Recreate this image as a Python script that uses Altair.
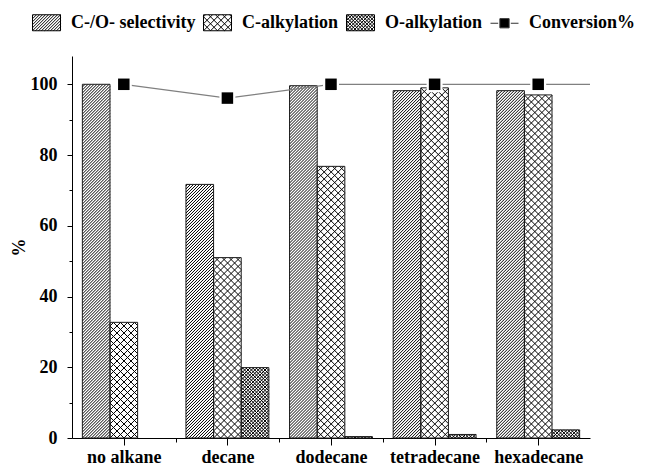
import json
import altair as alt
import pandas as pd

# ---------------- data ----------------
categories = ["no alkane", "decane", "dodecane", "tetradecane", "hexadecane"]
series = ["C-/O- selectivity", "C-alkylation", "O-alkylation"]
co_selectivity = [100.0, 71.7, 99.6, 98.2, 98.2]
c_alkylation = [32.7, 51.0, 76.8, 99.0, 97.0]
o_alkylation = [0.0, 19.9, 0.4, 1.0, 2.3]
conversion = [100.0, 96.1, 100.0, 100.0, 100.0]
conv_name = "Conversion%"
y_major = [0, 20, 40, 60, 80, 100]
y_minor = [10, 30, 50, 70, 90]

# ---------------- layout / style ----------------
W, H = 518, 382
YMAX = 108
N = len(categories)
PXX = W / N          # px per category unit
PXY = H / YMAX       # px per y unit
GROUP = 0.8
BW = GROUP / len(series)
FONT = "Liberation Serif"
FS = 18
# hatch families per series: (direction, spacing px)
patterns = {0: [(1, 3.0)], 1: [(1, 7.0), (-1, 7.0)], 2: [(1, 3.4), (-1, 3.4)]}

values = [co_selectivity, c_alkylation, o_alkylation]
bar_rows = []
hatch_rows = []
for j, (s, vals) in enumerate(zip(series, values)):
    for i, (c, v) in enumerate(zip(categories, vals)):
        bar_rows.append({"cat": c, "ser": s, "i": i, "j": j, "v": v})
        for fam, sp in patterns[j]:
            hatch_rows.append({"i": i, "j": j, "v": v, "fam": fam, "s": sp})
bars_df = pd.DataFrame(bar_rows)
hatch_df = pd.DataFrame(hatch_rows)
conv_df = pd.DataFrame({"i": list(range(N)), "cat": categories, "conv": conversion})
last_df = conv_df.iloc[[-1]]

xs = alt.Scale(domain=[0, N], nice=False, zero=False)
ys = alt.Scale(domain=[0, YMAX], nice=False, zero=False)

x_ticks = [k * 0.5 for k in range(1, 2 * N)]
names_js = json.dumps(categories)
x_axis = alt.Axis(
    values=x_ticks,
    labelExpr=f"floor(datum.value) == datum.value ? '' : {names_js}[floor(datum.value)]",
    title=None, grid=False, labelOverlap=False, labelFlush=False, labelBound=False,
    labelFont=FONT, labelFontWeight="bold", labelFontSize=FS, labelColor="black",
    labelPadding=3, domainColor="black", tickColor="black", domainWidth=1,
    tickSize={"condition": {"test": "floor(datum.value) == datum.value", "value": 4}, "value": 7},
)
y_axis = alt.Axis(
    values=sorted(y_major + y_minor),
    labelExpr="datum.value % 20 == 0 ? datum.value : ''",
    title="%", titleFont=FONT, titleFontWeight="bold", titleFontSize=FS, titleColor="black",
    titleX=-53, titleY=H / 2, titleAngle=270, titleBaseline="middle", titleAlign="center",
    grid=False, labelOverlap=False, labelFlush=False,
    labelFont=FONT, labelFontWeight="bold", labelFontSize=FS, labelColor="black",
    labelPadding=10, domainColor="black", tickColor="black", domainWidth=1,
    tickSize={"condition": {"test": "datum.value % 20 == 0", "value": 5}, "value": 3},
)

bar_base = alt.Chart(bars_df).transform_calculate(
    x0=f"datum.i + {(1 - GROUP) / 2} + datum.j * {BW}",
    x1=f"datum.i + {(1 - GROUP) / 2} + (datum.j + 1) * {BW}",
).transform_filter("datum.v > 0")

bars_fill = bar_base.mark_rect(fill="white").encode(
    x=alt.X("x0:Q", scale=xs, axis=x_axis),
    x2="x1:Q",
    y=alt.Y("v:Q", scale=ys, axis=y_axis),
    y2=alt.datum(0),
)

hatch = alt.Chart(hatch_df).transform_calculate(
    x0=f"datum.i + {(1 - GROUP) / 2} + datum.j * {BW}",
    w=f"{BW * PXX}",
    h=f"datum.v * {PXY}",
).transform_calculate(
    ks="datum.fam == 1 ? sequence(ceil(-datum.w / datum.s), floor(datum.h / datum.s) + 1)"
       " : sequence(1, floor((datum.w + datum.h) / datum.s) + 1)"
).transform_flatten(["ks"]).transform_calculate(
    c="datum.ks * datum.s"
).transform_calculate(
    xa="datum.fam == 1 ? max(0, -datum.c) : max(0, datum.c - datum.h)",
    xb="datum.fam == 1 ? min(datum.w, datum.h - datum.c) : min(datum.w, datum.c)",
).transform_filter("datum.xb - datum.xa > 0.3").transform_calculate(
    ya="datum.fam == 1 ? datum.xa + datum.c : datum.c - datum.xa",
    yb="datum.fam == 1 ? datum.xb + datum.c : datum.c - datum.xb",
).transform_calculate(
    X1=f"datum.x0 + datum.xa / {PXX}",
    X2=f"datum.x0 + datum.xb / {PXX}",
    Y1=f"datum.ya / {PXY}",
    Y2=f"datum.yb / {PXY}",
).mark_rule(color="black", strokeWidth=1).encode(
    x=alt.X("X1:Q", scale=xs, axis=x_axis),
    x2="X2:Q",
    y=alt.Y("Y1:Q", scale=ys, axis=y_axis),
    y2="Y2:Q",
)

bars_outline = bar_base.mark_rect(fillOpacity=0, stroke="#1a1a1a", strokeWidth=1).encode(
    x=alt.X("x0:Q", scale=xs, axis=x_axis),
    x2="x1:Q",
    y=alt.Y("v:Q", scale=ys, axis=y_axis),
    y2=alt.datum(0),
)

conv_base = alt.Chart(conv_df).transform_calculate(xc="datum.i + 0.5")
conv_line = conv_base.mark_line(color="#808080", strokeWidth=1.3).encode(
    x=alt.X("xc:Q", scale=xs, axis=x_axis),
    y=alt.Y("conv:Q", scale=ys, axis=y_axis),
)
conv_ext = alt.Chart(last_df).transform_calculate(
    xc="datum.i + 0.5", xe="datum.i + 1"
).mark_rule(color="#808080", strokeWidth=1.3).encode(
    x=alt.X("xc:Q", scale=xs, axis=x_axis),
    x2="xe:Q",
    y=alt.Y("conv:Q", scale=ys, axis=y_axis),
)
conv_halo = conv_base.mark_point(shape="square", filled=True, color="white", size=256, opacity=1).encode(
    x=alt.X("xc:Q", scale=xs, axis=x_axis),
    y=alt.Y("conv:Q", scale=ys, axis=y_axis),
)
conv_pts = conv_base.mark_point(shape="square", filled=True, color="black", size=132, opacity=1).encode(
    x=alt.X("xc:Q", scale=xs, axis=x_axis),
    y=alt.Y("conv:Q", scale=ys, axis=y_axis),
)

# ---------------- legend (symbols as hatched swatches) ----------------
SW, SH = 28.0, 16.0
R = SW / 2


def swatch_path(fams):
    hh = SH / 2 / R
    d = f"M-1,{-hh:.4f}L1,{-hh:.4f}L1,{hh:.4f}L-1,{hh:.4f}Z"
    for fam, sp in fams:
        if fam == 1:
            k0, k1 = int(-SW // sp), int(SH // sp) + 1
        else:
            k0, k1 = 1, int((SW + SH) // sp) + 1
        for k in range(k0, k1 + 1):
            c = k * sp
            if fam == 1:
                xa, xb = max(0, -c), min(SW, SH - c)
                ya, yb = xa + c, xb + c
            else:
                xa, xb = max(0, c - SH), min(SW, c)
                ya, yb = c - xa, c - xb
            if xb - xa > 0.3:
                d += (f"M{(xa - R) / R:.4f},{-(ya - SH / 2) / R:.4f}"
                      f"L{(xb - R) / R:.4f},{-(yb - SH / 2) / R:.4f}")
    return d


conv_symbol = ("M-1,0L-0.45,0M0.45,0L1,0"
               "M-0.33,-0.33L0.33,-0.33L0.33,0.33L-0.33,0.33Z")
legend_names = series + [conv_name]
legend_paths = [swatch_path(patterns[j]) for j in range(len(series))] + [conv_symbol]
legend_fills = ["white", "white", "white", "black"]
legend_strokes = ["black", "black", "black", "#333333"]

leg = alt.Legend(
    title=None, orient="none", legendX=-40, legendY=-48, direction="horizontal", columns=4,
    labelFont=FONT, labelFontSize=FS, labelFontWeight="bold", labelColor="black",
    symbolSize=SW * SW, symbolStrokeWidth=1, symbolOpacity=1,
    labelOffset=10, columnPadding=5, padding=0,
)
legend_df = pd.DataFrame({"name": legend_names})
legend_layer = alt.Chart(legend_df).transform_filter("false").mark_point(
    filled=True, size=SW * SW, strokeWidth=1, opacity=1
).encode(
    x=alt.X("v:Q", scale=xs, axis=x_axis),
    y=alt.Y("v:Q", scale=ys, axis=y_axis),
    shape=alt.Shape("name:N", scale=alt.Scale(domain=legend_names, range=legend_paths), legend=leg),
    fill=alt.Fill("name:N", scale=alt.Scale(domain=legend_names, range=legend_fills), legend=leg),
    stroke=alt.Stroke("name:N", scale=alt.Scale(domain=legend_names, range=legend_strokes), legend=leg),
)

chart = alt.layer(
    bars_fill, hatch, bars_outline, conv_line, conv_ext, conv_halo, conv_pts, legend_layer
).properties(
    width=W, height=H,
    background="white",
    autosize=alt.AutoSizeParams(type="none"),
    padding={"left": 64, "top": 48, "right": 56, "bottom": 30},
).configure_view(stroke=None)

chart.save("out.html", embed_options={"renderer": "svg", "actions": False})
